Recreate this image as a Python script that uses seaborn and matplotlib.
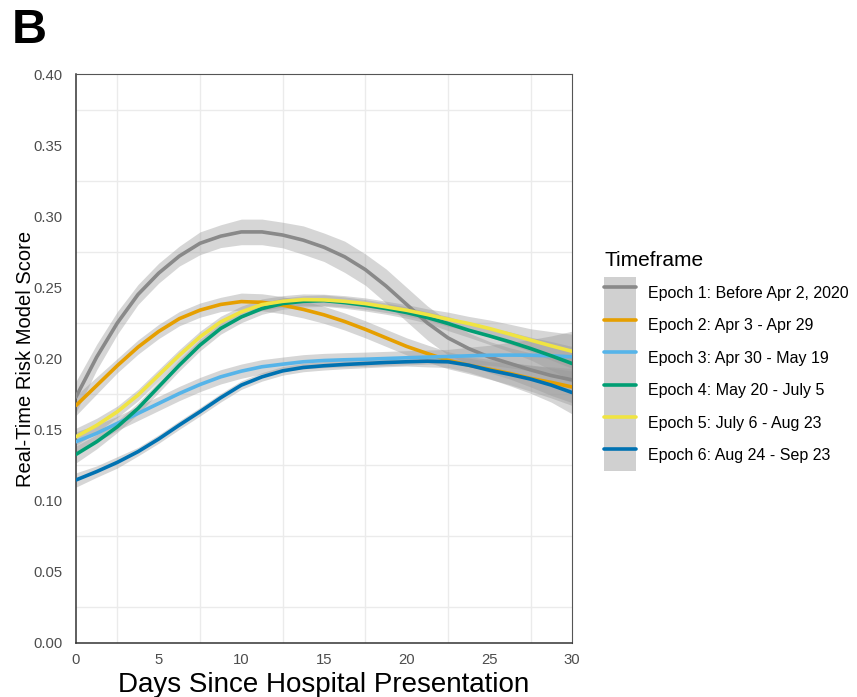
import numpy as np
import pandas as pd
import matplotlib
matplotlib.use("Agg")
import matplotlib.pyplot as plt
from matplotlib.patches import Patch
from matplotlib.lines import Line2D
import seaborn as sns

# days since presentation (values read every 1.25 days off the smooth curves)
days = [0, 1.25, 2.5, 3.75, 5, 6.25, 7.5, 8.75, 10, 11.25, 12.5, 13.75, 15,
        16.25, 17.5, 18.75, 20, 21.25, 22.5, 23.75, 25, 26.25, 27.5, 28.75, 30]

epochs = [
    "Epoch 1: Before Apr 2, 2020",
    "Epoch 2: Apr 3 - Apr 29",
    "Epoch 3: Apr 30 - May 19",
    "Epoch 4: May 20 - July 5",
    "Epoch 5: July 6 - Aug 23",
    "Epoch 6: Aug 24 - Sep 23",
]

epoch1 = [0.173, 0.201, 0.225, 0.245, 0.260, 0.272, 0.281, 0.286, 0.289, 0.289, 0.2868, 0.2832, 0.2782,
          0.2715, 0.2625, 0.251, 0.238, 0.225, 0.2145, 0.207, 0.201, 0.1965, 0.192, 0.188, 0.185]
epoch2 = [0.167, 0.181, 0.195, 0.208, 0.219, 0.228, 0.234, 0.238, 0.240, 0.2395, 0.2375, 0.2345, 0.2307,
          0.226, 0.2205, 0.2145, 0.2085, 0.2035, 0.1988, 0.1953, 0.1925, 0.1895, 0.186, 0.1832, 0.180]
epoch3 = [0.1415, 0.1474, 0.1544, 0.1614, 0.1684, 0.1754, 0.1817, 0.1871, 0.1911, 0.1942, 0.196, 0.1977, 0.1986,
          0.1991, 0.1995, 0.2, 0.2005, 0.201, 0.2014, 0.2019, 0.2023, 0.2024, 0.2023, 0.2019, 0.2012]
epoch4 = [0.1326, 0.1415, 0.152, 0.1649, 0.1801, 0.1953, 0.2094, 0.2211, 0.2292, 0.2351, 0.2386, 0.2402, 0.2407,
          0.2393, 0.2374, 0.2351, 0.2323, 0.2288, 0.2246, 0.2199, 0.2159, 0.2117, 0.207, 0.2019, 0.1965]
epoch5 = [0.145, 0.153, 0.1626, 0.1743, 0.1883, 0.2023, 0.2152, 0.2257, 0.2328, 0.2379, 0.2402, 0.2414, 0.2412,
          0.2402, 0.2386, 0.2363, 0.2339, 0.2309, 0.2276, 0.2246, 0.2211, 0.2171, 0.2129, 0.2089, 0.2051]
epoch6 = [0.1146, 0.1205, 0.127, 0.1345, 0.1434, 0.1532, 0.1626, 0.1724, 0.1813, 0.1871, 0.1913, 0.1937, 0.1949,
          0.1958, 0.1965, 0.1972, 0.1977, 0.1981, 0.1977, 0.1953, 0.1918, 0.1888, 0.1855, 0.1813, 0.1761]

# half widths of the confidence bands
band1 = [0.011, 0.009, 0.008, 0.007, 0.007, 0.007, 0.008, 0.008, 0.009, 0.009, 0.009, 0.010, 0.010,
         0.011, 0.011, 0.012, 0.012, 0.012, 0.012, 0.011, 0.011, 0.011, 0.012, 0.014, 0.016]
band2 = [0.007, 0.006, 0.005, 0.005, 0.005, 0.005, 0.005, 0.005, 0.006, 0.006, 0.006, 0.006, 0.006,
         0.006, 0.006, 0.006, 0.006, 0.006, 0.006, 0.006, 0.007, 0.008, 0.009, 0.011, 0.013]
band3 = [0.007, 0.006, 0.005, 0.005, 0.005, 0.005, 0.005, 0.005, 0.005, 0.005, 0.005, 0.005, 0.005,
         0.005, 0.005, 0.005, 0.005, 0.005, 0.005, 0.006, 0.007, 0.009, 0.011, 0.014, 0.018]
band4 = [0.006, 0.005, 0.004, 0.004, 0.004, 0.004, 0.004, 0.004, 0.004, 0.004, 0.004, 0.004, 0.004,
         0.004, 0.004, 0.004, 0.004, 0.004, 0.005, 0.005, 0.006, 0.007, 0.008, 0.010, 0.012]
band5 = [0.006, 0.005, 0.004, 0.004, 0.004, 0.004, 0.004, 0.004, 0.004, 0.004, 0.004, 0.004, 0.004,
         0.004, 0.004, 0.004, 0.004, 0.004, 0.005, 0.005, 0.006, 0.007, 0.008, 0.010, 0.012]
band6 = [0.005, 0.004, 0.004, 0.003, 0.003, 0.003, 0.003, 0.003, 0.003, 0.003, 0.003, 0.003, 0.003,
         0.003, 0.003, 0.003, 0.003, 0.004, 0.004, 0.005, 0.006, 0.008, 0.010, 0.012, 0.015]

colors = ["#898989", "#E69F00", "#56B4E9", "#009E73", "#F0E442", "#0072B2"]

scores = [epoch1, epoch2, epoch3, epoch4, epoch5, epoch6]
bands = [band1, band2, band3, band4, band5, band6]

rows = []
for name, sc, bd in zip(epochs, scores, bands):
    for d, s, b in zip(days, sc, bd):
        rows.append({"day": d, "score": s, "half": b, "epoch": name})
df = pd.DataFrame(rows)

sns.set_style("white")
plt.rcParams["font.family"] = ["Liberation Sans", "DejaVu Sans"]
plt.rcParams["text.color"] = "black"
plt.rcParams["axes.labelcolor"] = "black"

fig = plt.figure(figsize=(8.57, 6.97), dpi=100)
ax = fig.add_axes([0.0887, 0.0775, 0.5787, 0.8163])

# confidence bands first, then lines on top
for name in epochs:
    sub = df[df["epoch"] == name]
    ax.fill_between(sub["day"], sub["score"] - sub["half"], sub["score"] + sub["half"],
                    color="#999999", alpha=0.4, linewidth=0, zorder=2)

sns.lineplot(data=df, x="day", y="score", hue="epoch", hue_order=epochs,
             palette=colors, linewidth=2.6, legend=False, ax=ax, zorder=3)

ax.set_xlim(0, 30)
ax.set_ylim(0, 0.40)
ax.set_xticks([0, 5, 10, 15, 20, 25, 30])
ax.set_yticks(np.arange(0, 0.401, 0.05))
ax.set_yticklabels([f"{v:.2f}" for v in np.arange(0, 0.401, 0.05)])
ax.set_xticks(np.arange(2.5, 30, 5), minor=True)
ax.set_yticks(np.arange(0.025, 0.4, 0.05), minor=True)
ax.grid(which="minor", color="#EBEBEB", linewidth=1.0)
ax.grid(which="major", visible=False)
ax.tick_params(which="minor", length=0)
ax.tick_params(which="major", direction="out", length=3.6, width=1.0, color="#333333",
               labelsize=10.7, labelcolor="#4D4D4D")
ax.tick_params(axis="y", pad=6)
ax.tick_params(axis="x", pad=3.5)

for side in ["left", "bottom"]:
    ax.spines[side].set_color("#333333")
    ax.spines[side].set_linewidth(1.1)
for side in ["top", "right"]:
    ax.spines[side].set_color("#555555")
    ax.spines[side].set_linewidth(0.8)

ax.set_xlabel("Days Since Hospital Presentation", fontsize=20, labelpad=4)
ax.set_ylabel("Real-Time Risk Model Score", fontsize=14.5, labelpad=-1)

handles = [(Patch(facecolor="#D0D0D0", edgecolor="none"),
            Line2D([], [], color=c, linewidth=2.6)) for c in colors]
leg = fig.legend(handles, epochs, loc="upper left", bbox_to_anchor=(0.705, 0.6393),
                 frameon=False, fontsize=11.5, title="Timeframe", title_fontsize=15,
                 handlelength=2.0, handleheight=2.75, labelspacing=0, handletextpad=0.75,
                 borderpad=0, borderaxespad=0)
leg._legend_box.align = "left"
leg._legend_box.sep = 4.5

fig.text(0.014, 0.988, "B", fontsize=35, fontweight="bold", va="top", ha="left")

fig.savefig("out.png", dpi=100)
